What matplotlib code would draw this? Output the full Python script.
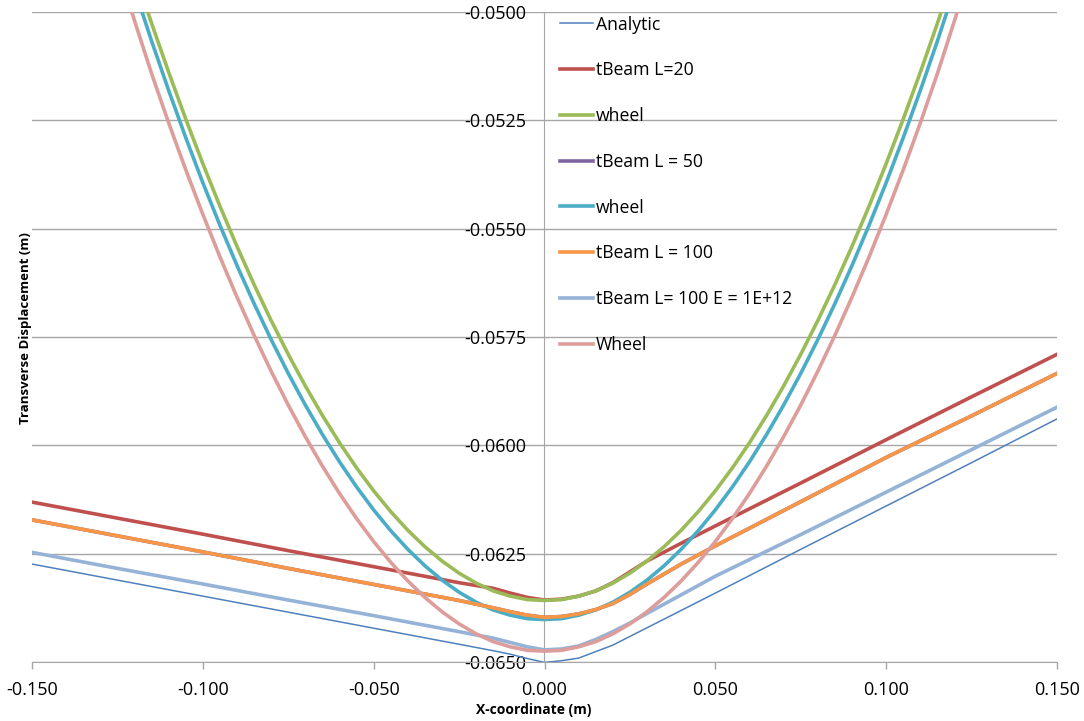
import numpy as np
import matplotlib
matplotlib.use('Agg')
import matplotlib.pyplot as plt
from matplotlib.ticker import FormatStrFormatter

# x positions for the beam runs and for the wheel runs
x_beam = [-0.15, -0.125, -0.10, -0.075, -0.05, -0.025, -0.015, -0.01, -0.005, 0.0,
          0.005, 0.01, 0.015, 0.02, 0.025, 0.03, 0.04, 0.05, 0.075, 0.10, 0.125, 0.15]
x_wheel = [-0.13, -0.125, -0.12, -0.115, -0.11, -0.105, -0.10, -0.095, -0.09, -0.085,
           -0.08, -0.075, -0.07, -0.065, -0.06, -0.055, -0.05, -0.045, -0.04, -0.035,
           -0.03, -0.025, -0.02, -0.015, -0.01, -0.005, 0.0,
           0.005, 0.01, 0.015, 0.02, 0.025, 0.03, 0.035, 0.04, 0.045, 0.05,
           0.055, 0.06, 0.065, 0.07, 0.075, 0.08, 0.085, 0.09, 0.095, 0.10,
           0.105, 0.11, 0.115, 0.12, 0.125, 0.13]

analytic = [-0.06274, -0.06311, -0.06348, -0.06385, -0.06422, -0.06459, -0.06474, -0.06482, -0.06492, -0.06501,
            -0.06497, -0.06491, -0.06476, -0.06461, -0.06441, -0.06421, -0.06381, -0.06341, -0.06240, -0.06140, -0.06040, -0.05939]
tbeam_20 = [-0.06131, -0.06168, -0.06205, -0.06243, -0.06280, -0.06317, -0.06330, -0.06341, -0.06351, -0.06357,
            -0.06355, -0.06348, -0.06336, -0.06317, -0.06292, -0.06267, -0.06226, -0.06186, -0.06087, -0.05987, -0.05888, -0.05790]
tbeam_50 = [-0.06172, -0.06209, -0.06246, -0.06284, -0.06321, -0.06358, -0.06375, -0.06384, -0.06392, -0.06397,
            -0.06395, -0.06389, -0.06379, -0.06365, -0.06344, -0.06320, -0.06274, -0.06232, -0.06130, -0.06028, -0.05932, -0.05834]
tbeam_100 = [-0.06172, -0.06209, -0.06246, -0.06284, -0.06321, -0.06358, -0.06375, -0.06384, -0.06392, -0.06397,
             -0.06395, -0.06389, -0.06379, -0.06365, -0.06344, -0.06320, -0.06274, -0.06232, -0.06130, -0.06028, -0.05932, -0.05834]
tbeam_100_stiff = [-0.06247, -0.06284, -0.06320, -0.06357, -0.06393, -0.06430, -0.06445, -0.06455, -0.06465, -0.06472,
                   -0.06470, -0.06463, -0.06448, -0.06430, -0.06410, -0.06388, -0.06345, -0.06302, -0.06206, -0.06108, -0.06010, -0.05912]

wheel_a = [-0.04657, -0.04785, -0.04908, -0.05026, -0.05139, -0.05247, -0.05350, -0.05448, -0.05541, -0.05629,
           -0.05712, -0.05790, -0.05863, -0.05931, -0.05994, -0.06052, -0.06105, -0.06153, -0.06196, -0.06234,
           -0.06267, -0.06295, -0.06318, -0.06336, -0.06348, -0.06356, -0.06358,
           -0.06356, -0.06348, -0.06336, -0.06318, -0.06295, -0.06267, -0.06234, -0.06196, -0.06153, -0.06105,
           -0.06052, -0.05994, -0.05931, -0.05863, -0.05790, -0.05712, -0.05629, -0.05541, -0.05448, -0.05350,
           -0.05247, -0.05139, -0.05026, -0.04908, -0.04785, -0.04657]
wheel_b = [-0.04692, -0.04822, -0.04947, -0.05067, -0.05181, -0.05290, -0.05394, -0.05492, -0.05585, -0.05673,
           -0.05756, -0.05834, -0.05907, -0.05975, -0.06038, -0.06096, -0.06149, -0.06197, -0.06240, -0.06278,
           -0.06311, -0.06339, -0.06362, -0.06380, -0.06392, -0.06400, -0.06402,
           -0.06400, -0.06392, -0.06380, -0.06362, -0.06339, -0.06311, -0.06278, -0.06240, -0.06197, -0.06149,
           -0.06096, -0.06038, -0.05975, -0.05907, -0.05834, -0.05756, -0.05673, -0.05585, -0.05492, -0.05394,
           -0.05290, -0.05181, -0.05067, -0.04947, -0.04822, -0.04692]
wheel_c = [-0.04760, -0.04892, -0.05020, -0.05142, -0.05256, -0.05364, -0.05467, -0.05565, -0.05658, -0.05746,
           -0.05829, -0.05907, -0.05980, -0.06048, -0.06111, -0.06169, -0.06222, -0.06270, -0.06313, -0.06351,
           -0.06384, -0.06412, -0.06435, -0.06453, -0.06465, -0.06473, -0.06475,
           -0.06473, -0.06465, -0.06453, -0.06435, -0.06412, -0.06384, -0.06351, -0.06313, -0.06270, -0.06222,
           -0.06169, -0.06111, -0.06048, -0.05980, -0.05907, -0.05829, -0.05746, -0.05658, -0.05565, -0.05467,
           -0.05364, -0.05256, -0.05142, -0.05020, -0.04892, -0.04760]

series = [
    (x_beam, analytic, 'Analytic', '#4F81BD', 1.1),
    (x_beam, tbeam_20, 'tBeam L=20', '#C0504D', 2.6),
    (x_wheel, wheel_a, 'wheel', '#9BBB59', 2.6),
    (x_beam, tbeam_50, 'tBeam L = 50', '#8064A2', 2.6),
    (x_wheel, wheel_b, 'wheel', '#4BACC6', 2.6),
    (x_beam, tbeam_100, 'tBeam L = 100', '#F79646', 2.6),
    (x_beam, tbeam_100_stiff, 'tBeam L= 100 E = 1E+12', '#95B3D7', 2.6),
    (x_wheel, wheel_c, 'Wheel', '#DC9D9B', 2.6),
]

plt.rcParams['font.family'] = ['Open Sans', 'DejaVu Sans']

fig = plt.figure(figsize=(10.84, 7.21), dpi=100)
ax = fig.add_axes([32 / 1084, 1 - 662 / 721, 1025 / 1084, 650 / 721])

for xs, ys, label, color, lw in series:
    ax.plot(xs, ys, color=color, lw=lw, label=label, solid_joinstyle='round')

ax.set_xlim(-0.15, 0.15)
ax.set_ylim(-0.065, -0.05)
ax.set_xticks(np.arange(-0.15, 0.1501, 0.05))
ax.set_yticks(np.arange(-0.065, -0.04999, 0.0025))
ax.xaxis.set_major_formatter(FormatStrFormatter('%.3f'))
ax.yaxis.set_major_formatter(FormatStrFormatter('%.4f'))

grid_c = '#A6A6A6'
ax.grid(axis='y', color=grid_c, lw=1.0)
ax.set_axisbelow(True)
for side in ('top', 'right'):
    ax.spines[side].set_visible(False)
ax.spines['left'].set_position(('data', 0.0))
ax.spines['left'].set_color(grid_c)
ax.spines['left'].set_zorder(0.5)
ax.spines['bottom'].set_color(grid_c)
ax.tick_params(axis='y', length=0, pad=13, labelsize=13)
ax.tick_params(axis='x', length=5, width=1, color=grid_c, pad=9, labelsize=13, direction='out')

ax.set_xlabel('X-coordinate (m)', fontsize=10, fontweight='bold')
ax.xaxis.set_label_coords(0.489, -0.063)
ax.set_ylabel('Transverse Displacement (m)', fontsize=9.5, fontweight='bold')
ax.yaxis.set_label_coords(0.0, 0.513)

ax.legend(loc='upper left', bbox_to_anchor=(0.508, 1.0054), frameon=False, fontsize=12.7,
          handlelength=1.9, handletextpad=0.15, labelspacing=1.575, borderaxespad=0)

fig.savefig('out.png', dpi=100)
